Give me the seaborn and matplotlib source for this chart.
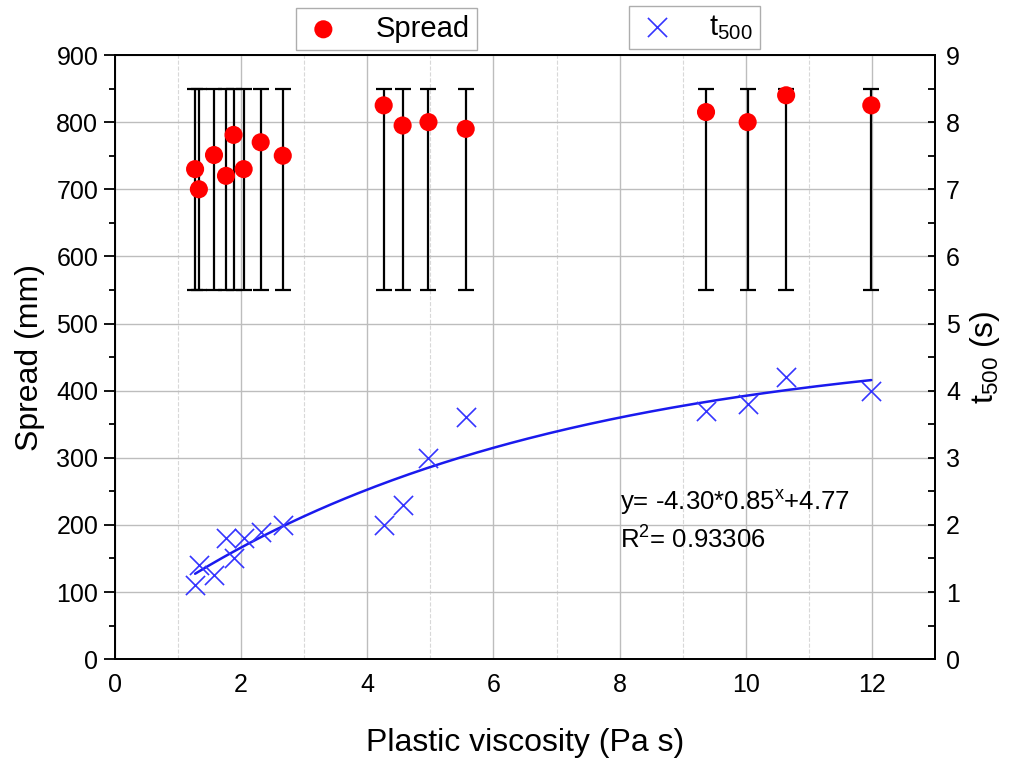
import numpy as np
import pandas as pd
import seaborn as sns
import matplotlib
matplotlib.use("Agg")
import matplotlib.pyplot as plt
from matplotlib.ticker import MultipleLocator

# Data
plastic_viscosity = [1.27, 1.33, 1.57, 1.76, 1.88, 2.04, 2.31, 2.66,
                     4.26, 4.56, 4.97, 5.56, 9.37, 10.03, 10.64, 11.99]
spread = [730, 700, 751, 720, 781, 730, 770, 750,
          825, 795, 800, 790, 815, 800, 840, 825]
t500 = [1.1, 1.4, 1.25, 1.8, 1.5, 1.8, 1.9, 2.0,
        2.0, 2.3, 3.0, 3.6, 3.7, 3.8, 4.2, 4.0]
# error bar range shown for the spread values
err_bottom = 550
err_top = 850

# fitted model from the chart: y = A * B^x + C
FIT_A, FIT_B, FIT_C = -4.30, 0.85, 4.77
R2 = 0.93306

df = pd.DataFrame({"pv": plastic_viscosity, "spread": spread, "t500": t500})
df["err_lo"] = df["spread"] - err_bottom
df["err_hi"] = err_top - df["spread"]

fit_x = np.linspace(df["pv"].min(), df["pv"].max(), 200)
fit = pd.DataFrame({"pv": fit_x, "t500": FIT_A * FIT_B ** fit_x + FIT_C})

sns.set_style("white")
plt.rcParams["font.family"] = ["Liberation Sans", "DejaVu Sans"]
plt.rcParams["mathtext.fontset"] = "custom"
plt.rcParams["mathtext.rm"] = "Liberation Sans"
plt.rcParams["mathtext.it"] = "Liberation Sans"
for key in ("text.color", "axes.labelcolor", "xtick.color", "ytick.color"):
    plt.rcParams[key] = "black"

fig = plt.figure(figsize=(10.13, 7.62), dpi=100)
ax = fig.add_axes([0.1135, 0.135, 0.8095, 0.7928])

# grid
ax.set_axisbelow(True)
ax.grid(True, which="major", color="#bdbdbd", linewidth=1.0)
ax.xaxis.set_minor_locator(MultipleLocator(1))
ax.yaxis.set_minor_locator(MultipleLocator(50))
ax.grid(True, which="minor", axis="x", color="#d8d8d8", linewidth=0.8, linestyle="--")

# spread with error bars
ax.errorbar(df["pv"], df["spread"], yerr=[df["err_lo"], df["err_hi"]],
            fmt="none", ecolor="black", elinewidth=1.6, capsize=5.5,
            capthick=1.6, zorder=2)
sns.scatterplot(data=df, x="pv", y="spread", ax=ax, color="#ff0000", s=170,
                edgecolor="none", zorder=3, legend=False)
spread_handle = ax.collections[-1]

ax.set_xlim(0, 13)
ax.set_ylim(0, 900)
ax.xaxis.set_major_locator(MultipleLocator(2))
ax.yaxis.set_major_locator(MultipleLocator(100))
ax.set_xlabel("Plastic viscosity (Pa s)", fontsize=23, labelpad=22)
ax.set_ylabel("Spread (mm)", fontsize=23, labelpad=8)
ax.tick_params(axis="x", which="major", direction="inout", length=12, width=1.3,
               labelsize=18, pad=4, top=False)
ax.tick_params(axis="x", which="minor", direction="out", length=5, width=1.3, top=False)
ax.tick_params(axis="y", which="major", direction="out", length=8, width=1.3,
               labelsize=18, pad=4)
ax.tick_params(axis="y", which="minor", direction="out", length=4, width=1.3)

# t500 on the right axis
ax2 = ax.twinx()
sns.scatterplot(data=df, x="pv", y="t500", ax=ax2, marker="x", color="#3535ff",
                s=190, linewidth=1.2, zorder=3, legend=False)
t500_handle = ax2.collections[-1]
sns.lineplot(data=fit, x="pv", y="t500", ax=ax2, color="#1a1aee", linewidth=1.8)
ax2.set_ylim(0, 9)
ax2.yaxis.set_major_locator(MultipleLocator(1))
ax2.yaxis.set_minor_locator(MultipleLocator(0.5))
ax2.set_ylabel("t$_{500}$ (s)", fontsize=23, labelpad=6)
ax2.tick_params(axis="y", which="both", direction="in", length=5, width=1.3,
                labelsize=18, pad=8)

for a in (ax, ax2):
    for sp in a.spines.values():
        sp.set_color("black")
        sp.set_linewidth(1.3)

ax2.text(8.0, 2.33, "y= -4.30*0.85$^{x}$+4.77", fontsize=18.5, va="center")
ax2.text(8.0, 1.78, f"R$^2$= {R2:.5f}", fontsize=18.5, va="center")

# two separate legend boxes above the plot
leg1 = fig.legend([spread_handle], ["Spread"], loc="center",
                  bbox_to_anchor=(0.3815, 0.962), fontsize=21, frameon=True,
                  fancybox=False, edgecolor="#999999", handletextpad=1.1,
                  borderpad=0.25, handlelength=1.4)
leg2 = fig.legend([t500_handle], ["t$_{500}$"], loc="center",
                  bbox_to_anchor=(0.6856, 0.964), fontsize=21, frameon=True,
                  fancybox=False, edgecolor="#999999", handletextpad=1.1,
                  borderpad=0.25, handlelength=1.4)
for leg in (leg1, leg2):
    leg.get_frame().set_linewidth(1.0)

fig.savefig("out.png", dpi=100)
